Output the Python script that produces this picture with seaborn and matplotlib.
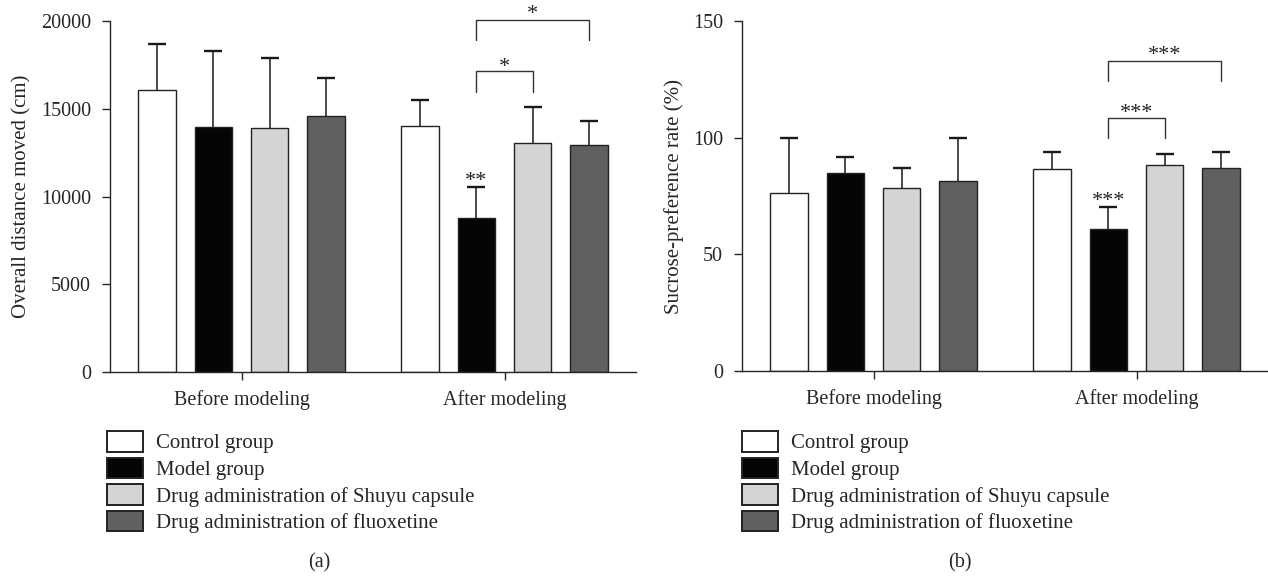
import matplotlib
matplotlib.use('Agg')
import pandas as pd
import numpy as np
import matplotlib.pyplot as plt
from matplotlib.container import BarContainer
import seaborn as sns

# Data
phases = ['Before modeling', 'After modeling']
groups = ['Control group', 'Model group',
          'Drug administration of Shuyu capsule',
          'Drug administration of fluoxetine']
colors = ['#ffffff', '#050505', '#d4d4d4', '#5f605f']

# (a) overall distance moved, mean and upper error, per phase
dist_before = [16050, 13950, 13880, 14590]
dist_before_err = [2620, 4340, 4030, 2180]
dist_after = [14020, 8770, 13070, 12930]
dist_after_err = [1480, 1790, 2030, 1390]

# (b) sucrose preference rate, mean and upper error
sucr_before = [76.1, 84.7, 78.3, 81.6]
sucr_before_err = [23.9, 7.2, 8.8, 18.4]
sucr_after = [86.6, 61.0, 88.3, 87.1]
sucr_after_err = [7.3, 9.3, 4.7, 6.8]

sns.set_style('ticks')
plt.rcParams['font.family'] = ['Liberation Serif', 'DejaVu Serif']
plt.rcParams['axes.linewidth'] = 1.0

fig = plt.figure(figsize=(12.68, 5.77), dpi=100)
W, H = 1268, 577


def add_axes(x0, x1, y0, y1):
    return fig.add_axes([x0 / W, 1 - y1 / H, (x1 - x0) / W, (y1 - y0) / H])


def make_df(before, after):
    rows = []
    for i, g in enumerate(groups):
        rows.append({'phase': phases[0], 'group': g, 'value': before[i]})
        rows.append({'phase': phases[1], 'group': g, 'value': after[i]})
    return pd.DataFrame(rows)


def bar_sets(ax):
    return [c for c in ax.containers if isinstance(c, BarContainer)]


def draw_panel(ax, before, before_err, after, after_err, ylim, yticks, ylabel):
    df = make_df(before, after)
    sns.barplot(data=df, x='phase', y='value', hue='group', order=phases,
                hue_order=groups, palette=colors, edgecolor='#222222',
                linewidth=1.0, width=0.855, gap=0.33, errorbar=None,
                legend=False, ax=ax)
    errs = [before_err, after_err]
    for h, cont in enumerate(bar_sets(ax)):
        for i, bar in enumerate(cont):
            xc = bar.get_x() + bar.get_width() / 2
            _, caps, _ = ax.errorbar(xc, bar.get_height(),
                                     yerr=[[0], [errs[i][h]]], fmt='none',
                                     ecolor='#1a1a1a', elinewidth=1.1,
                                     capsize=6.8, capthick=1.7, zorder=1)
            caps[0].set_visible(False)  # only the upper cap is drawn
    ax.set_xlim(-0.5, 1.5)
    ax.set_ylim(*ylim)
    ax.set_yticks(yticks)
    ax.set_xlabel('')
    ax.set_ylabel(ylabel, fontsize=15)
    ax.tick_params(axis='both', labelsize=14.5, length=6, width=1.0)
    ax.tick_params(axis='y', pad=7.5)
    ax.tick_params(axis='x', pad=7)
    sns.despine(ax=ax)
    return ax


def centers(ax):
    # bar centres of the "After modeling" group, per hue level
    return [c[1].get_x() + c[1].get_width() / 2 for c in bar_sets(ax)]


def bracket(ax, x0, x1, y_top, y_bot, label, y_text):
    ax.plot([x0, x0, x1, x1], [y_bot, y_top, y_top, y_bot], color='#333333',
            lw=1.0, clip_on=False)
    ax.text((x0 + x1) / 2, y_text, label, ha='center', va='baseline',
            fontsize=16, clip_on=False)


# panel (a)
ax1 = add_axes(110, 636, 21, 372)
draw_panel(ax1, dist_before, dist_before_err, dist_after, dist_after_err,
           (0, 20000), [0, 5000, 10000, 15000, 20000],
           'Overall distance moved (cm)')
ax1.yaxis.set_label_coords(-0.15, 0.5)
c1 = centers(ax1)
bracket(ax1, c1[1], c1[3], 20070, 18900, '*', 20120)
bracket(ax1, c1[1], c1[2], 17150, 15970, '*', 17080)
ax1.text(c1[1], 10560 + 40, '**', ha='center', va='baseline', fontsize=16)

# panel (b)
ax2 = add_axes(742, 1268, 21, 371)
draw_panel(ax2, sucr_before, sucr_before_err, sucr_after, sucr_after_err,
           (0, 150), [0, 50, 100, 150], 'Sucrose-preference rate (%)')
ax2.yaxis.set_label_coords(-0.11, 0.5)
c2 = centers(ax2)
bracket(ax2, c2[1], c2[3], 132.9, 124.3, '***', 133.2)
bracket(ax2, c2[1], c2[2], 108.3, 99.7, '***', 108.5)
ax2.text(c2[1], 70.6, '***', ha='center', va='baseline', fontsize=16)

# legends below each panel
for ax, x0 in [(ax1, 107), (ax2, 742)]:
    handles = [cont[0] for cont in bar_sets(ax)]
    leg = ax.legend(handles, groups, loc='upper left',
                    bbox_to_anchor=(x0 / W, 1 - 431 / H),
                    bbox_transform=fig.transFigure, frameon=False,
                    fontsize=15, handlelength=1.75, handleheight=1.15,
                    handletextpad=0.6, labelspacing=0.2, borderpad=0,
                    borderaxespad=0)
    for p in leg.get_patches():
        p.set_linewidth(1.4)

fig.text(319 / W, 1 - 563 / H, '(a)', ha='center', va='center', fontsize=14.5)
fig.text(960 / W, 1 - 563 / H, '(b)', ha='center', va='center', fontsize=14.5)

fig.savefig('out.png', dpi=100)
